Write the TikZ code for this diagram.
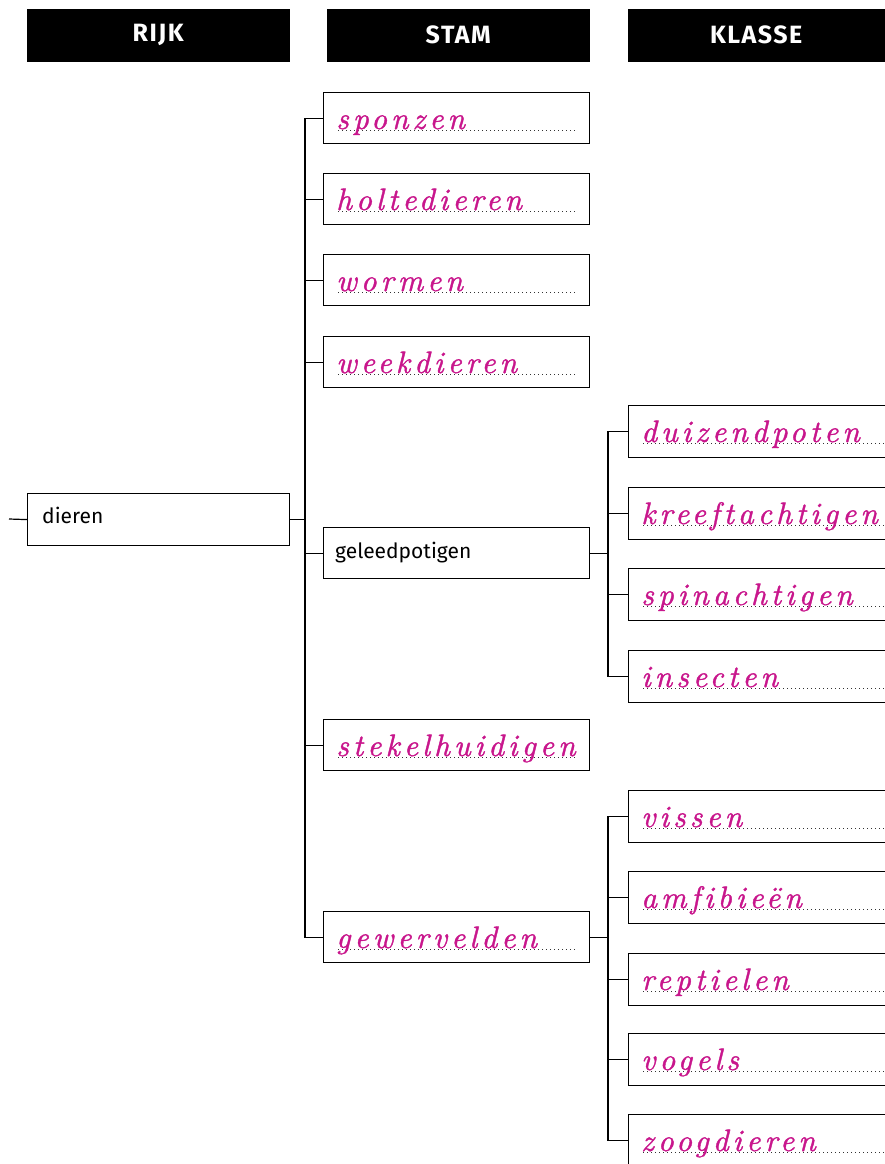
\documentclass[tikz,border=0pt]{standalone}
\usepackage{fontspec}
\setsansfont{Fira Sans}
\newfontfamily\headfont[LetterSpace=6]{Fira Sans Bold}
\newfontfamily\handfont{lmroman10-italic.otf}[LetterSpace=13,FakeBold=1.2,Ligatures=NoCommon]
\usetikzlibrary{calc}
\definecolor{handpink}{HTML}{C8168C}
\definecolor{dotgray}{HTML}{333333}
\tikzset{
  headbox/.style={fill=black, draw=black, minimum width=262pt, minimum height=52pt, inner sep=0pt, anchor=north west},
  headtext/.style={text=white, font=\headfont\fontsize{25}{28}\selectfont, inner sep=0pt},
  stambox/.style={draw=black, line width=1.2pt, minimum width=266pt, minimum height=51pt, inner sep=0pt, anchor=north west},
  klassebox/.style={draw=black, line width=1.2pt, minimum width=264pt, minimum height=52pt, inner sep=0pt, anchor=north west},
  plain/.style={font=\sffamily\fontsize{21}{24}\selectfont, anchor=base west, inner sep=0pt},
  hand/.style={font=\handfont\fontsize{31}{34}\selectfont, text=handpink, anchor=base west, inner sep=0pt},
  dots/.style={draw=dotgray, line width=1pt, dash pattern=on 1pt off 3pt},
  conn/.style={draw=black, line width=1.2pt},
}
\begin{document}
\begin{tikzpicture}[x=1pt, y=-1pt]
\useasboundingbox (0,0) rectangle (885,1164);
% headers
\node[headbox] (hrijk) at (27,9) {};
\node[headbox] (hstam) at (327,9) {};
\node[headbox] (hklasse) at (628,9) {};
\node[headtext] (trijk) at ($(hrijk.center)+(0,-0.5)$) {RIJK};
\node[headtext] (tstam) at ($(hstam.center)+(0,-0.5)$) {STAM};
\node[headtext] (tklasse) at ($(hklasse.center)+(-3,-0.5)$) {KLASSE};
% rijk
\node[stambox, minimum width=262pt, minimum height=52pt] (dieren) at (27,493) {};
\node[plain] (tdieren) at ($(dieren.north west)+(15,30)$) {dieren};
\coordinate (root) at (9,519);
% stam boxes
\foreach \n/\y in {sponzen/92, holtedieren/173, wormen/254, weekdieren/336, geleedpotigen/527, stekelhuidigen/719, gewervelden/911}{
  \node[stambox] (\n) at (323,\y) {};
}
\foreach \n in {sponzen, holtedieren, wormen, weekdieren, stekelhuidigen, gewervelden}{
  \draw[dots] ($(\n.north west)+(15,38.5)$) -- ($(\n.north east)+(-14,38.5)$);
}
\node[hand] (tsponzen) at ($(sponzen.north west)+(13,37)$) {sponzen};
\node[hand] (tholtedieren) at ($(holtedieren.north west)+(13,37)$) {holtedieren};
\node[hand] (twormen) at ($(wormen.north west)+(13,37)$) {wormen};
\node[hand] (tweekdieren) at ($(weekdieren.north west)+(13,37)$) {weekdieren};
\node[plain] (tgeleedpotigen) at ($(geleedpotigen.north west)+(12,31)$) {geleedpotigen};
\node[hand] (tstekelhuidigen) at ($(stekelhuidigen.north west)+(13,37)$) {stekelhuidigen};
\node[hand] (tgewervelden) at ($(gewervelden.north west)+(13,37)$) {gewervelden};
% klasse boxes
\foreach \n/\y/\t in {duizendpoten/405/duizendpoten, kreeftachtigen/487/kreeftachtigen, spinachtigen/568/spinachtigen, insecten/650/insecten, vissen/790/vissen, amfibieen/871/amfibieën, reptielen/953/reptielen, vogels/1033/vogels, zoogdieren/1114/zoogdieren}{
  \node[klassebox] (\n) at (628,\y) {};
  \draw[dots] ($(\n.north west)+(15,38.5)$) -- ($(\n.north east)+(-10,38.5)$);
  \node[hand] (t\n) at ($(\n.north west)+(13,37)$) {\t};
}
% connectors
\draw[conn] (root) -- (dieren.west);
\draw[conn] (dieren.east) -- ++(16,0);
\draw[conn] (sponzen.west) -- ++(-18,0) |- (gewervelden.west);
\foreach \n in {holtedieren, wormen, weekdieren, geleedpotigen, stekelhuidigen}{
  \draw[conn] (\n.west) -- ++(-18,0);
}
\draw[conn] (geleedpotigen.east) -- ++(19,0);
\draw[conn] (duizendpoten.west) -- ++(-20,0) |- (insecten.west);
\foreach \n in {kreeftachtigen, spinachtigen}{
  \draw[conn] (\n.west) -- ++(-20,0);
}
\draw[conn] (gewervelden.east) -- ++(19,0);
\draw[conn] (vissen.west) -- ++(-20,0) |- (zoogdieren.west);
\foreach \n in {amfibieen, reptielen, vogels}{
  \draw[conn] (\n.west) -- ++(-20,0);
}
\end{tikzpicture}
\end{document}
